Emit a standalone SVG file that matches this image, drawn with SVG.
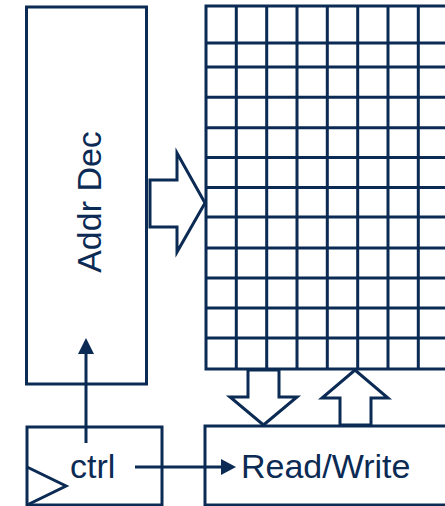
<svg xmlns="http://www.w3.org/2000/svg" width="445" height="506" viewBox="0 0 445 506">
<style>
.s{fill:none;stroke:#0b2a54;stroke-width:3}
.w{fill:#fff;stroke:#0b2a54;stroke-width:3;stroke-linejoin:miter}
.t{font-family:"Liberation Sans",Arial,sans-serif;font-size:34px;fill:#0b2a54}
.h{fill:#0b2a54}
</style>
<rect width="445" height="506" fill="#fff"/>
<g id="addrdec">
<rect class="s" x="26.5" y="7" width="120" height="377"/>
<text class="t" transform="translate(101,202) rotate(-90)" text-anchor="middle">Addr Dec</text>
</g>
<g id="array">
<path class="s" d="M460,6 H206 V369 H460"/>
<path class="s" d="M206,43 H460 M206,67 H460 M206,97.3 H460 M206,127.7 H460 M206,157.5 H460 M206,187.5 H460 M206,217 H460 M206,248 H460 M206,278 H460 M206,308 H460 M206,338 H460"/>
<path class="s" d="M236.3,6 V369 M266.7,6 V369 M297,6 V369 M327.3,6 V369 M357.7,6 V369 M388,6 V369 M418.3,6 V369"/>
</g>
<g id="ctrl">
<rect class="s" x="27" y="427" width="135" height="78"/>
<polyline class="s" points="27,467 66,486 27,505"/>
<text class="t" x="70" y="478">ctrl</text>
</g>
<g id="readwrite">
<rect class="s" x="205" y="426" width="260" height="79"/>
<text class="t" x="241" y="478">Read/Write</text>
</g>
<g id="connectors">
<polygon class="w" points="150,180 177,180 177,153 205,203 177,252 177,227 150,227"/>
<polygon class="w" points="248,370 279,370 279,397 297,397 263.5,425 230,397 248,397"/>
<polygon class="w" points="340,425 371,425 371,398 388,398 355,370 322,398 340,398"/>
<line class="s" x1="86" y1="443" x2="86" y2="352"/>
<polygon class="h" points="78,354 94,354 86,338"/>
<line class="s" x1="135" y1="467" x2="223" y2="467"/>
<polygon class="h" points="221,459 236,467 221,475"/>
</g>
</svg>
